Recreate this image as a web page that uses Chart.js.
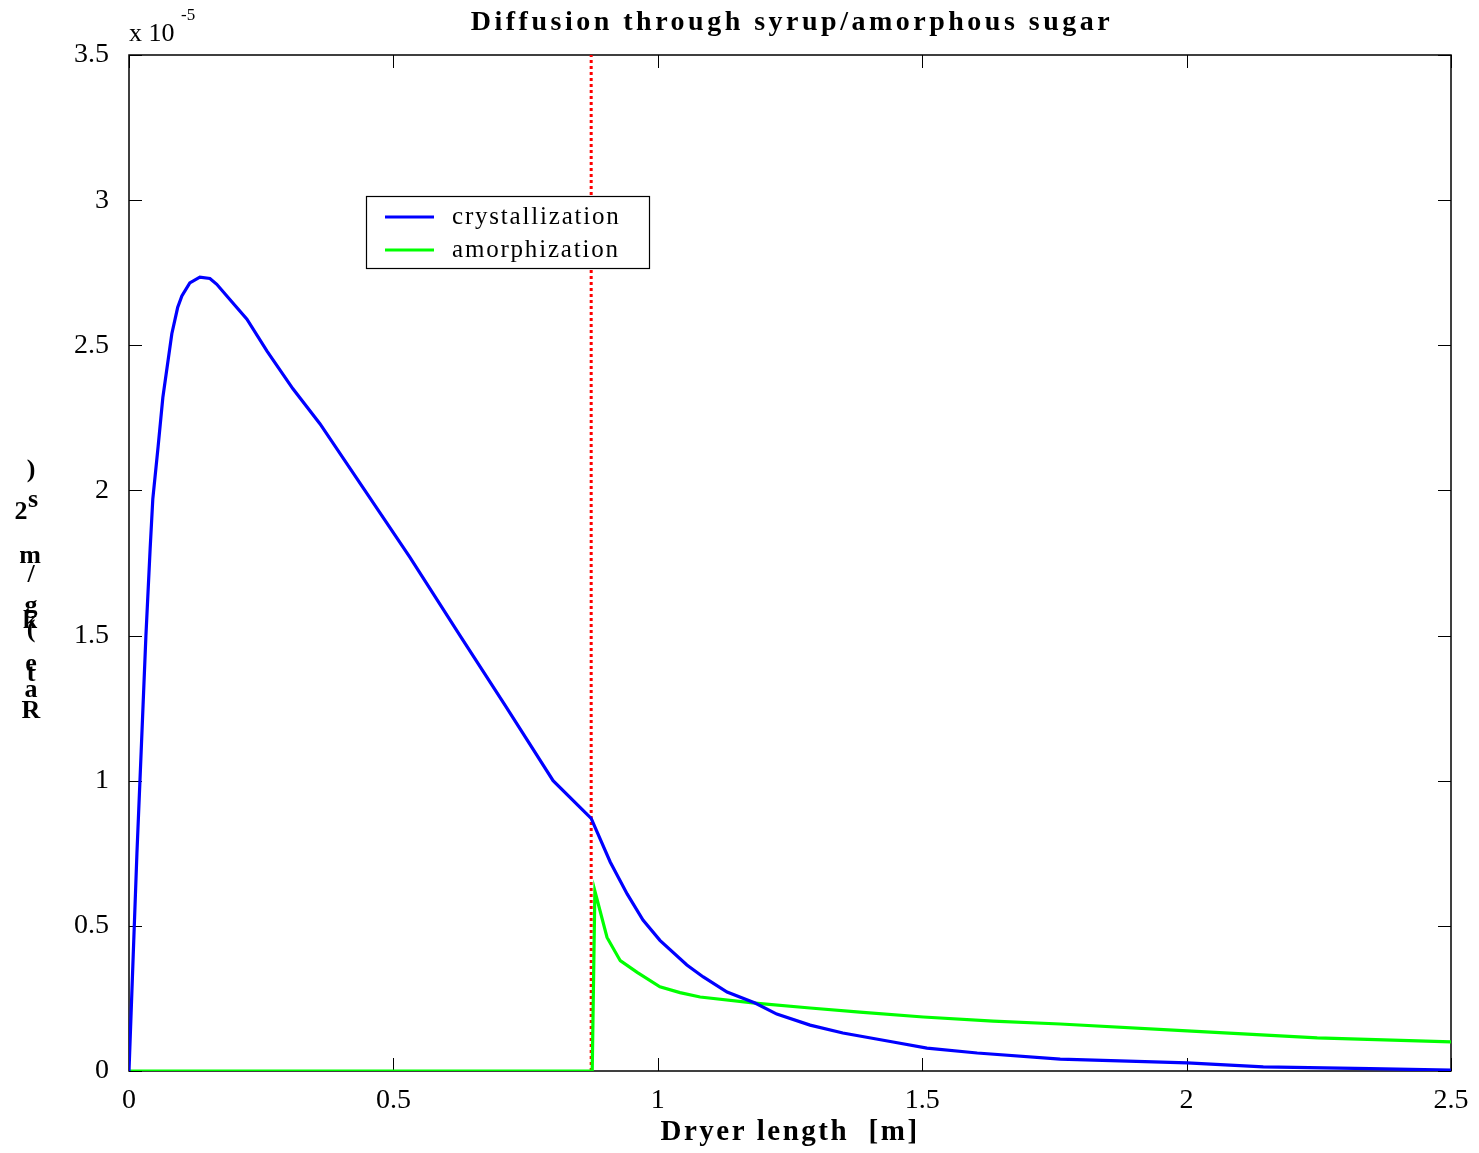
<!DOCTYPE html>
<html>
<head>
<meta charset="utf-8">
<script src="https://cdn.jsdelivr.net/npm/chart.js@4.4.0/dist/chart.umd.min.js"></script>
<style>
  html, body { margin: 0; padding: 0; background: #fff; }
  canvas { display: block; }
</style>
</head>
<body>
<canvas id="diffChart" width="1479" height="1153"></canvas>
<script>
// dryer length [m] and rates [x 1e-5 kg/m2 s]
const crystX = [0, 0.008, 0.015, 0.023, 0.032, 0.040, 0.045, 0.055, 0.064, 0.081, 0.092, 0.100, 0.115, 0.134, 0.153,
    0.166, 0.185, 0.223, 0.261, 0.310, 0.361, 0.446, 0.531, 0.626, 0.711, 0.802, 0.874, 0.910, 0.942, 0.972,
    1.004, 1.055, 1.086, 1.131, 1.184, 1.225, 1.288, 1.350, 1.445, 1.509, 1.604, 1.761, 2.001, 2.145, 2.347, 2.5];
const crystY = [0, 0.40, 0.75, 1.10, 1.50, 1.80, 1.97, 2.15, 2.32, 2.54, 2.63, 2.67, 2.715, 2.735, 2.73,
    2.71, 2.67, 2.59, 2.48, 2.35, 2.23, 2.00, 1.77, 1.50, 1.26, 1.00, 0.87, 0.72, 0.61, 0.52,
    0.45, 0.365, 0.324, 0.272, 0.234, 0.196, 0.158, 0.131, 0.100, 0.079, 0.062, 0.041, 0.028, 0.014, 0.008, 0.003];

const amorphX = [0, 0.876, 0.881, 0.904, 0.929, 0.961, 1.004, 1.042, 1.080, 1.184, 1.288, 1.382, 1.502, 1.634,
    1.761, 2.001, 2.247, 2.5];
const amorphY = [0, 0, 0.62, 0.46, 0.38, 0.34, 0.29, 0.27, 0.255, 0.234, 0.217, 0.203, 0.186, 0.172,
    0.162, 0.138, 0.114, 0.100];

// transition point between syrup and amorphous sugar
const transitionX = 0.874;

const xTicks = [0, 0.5, 1, 1.5, 2, 2.5];
const yTicks = [0, 0.5, 1, 1.5, 2, 2.5, 3, 3.5];

const serif = '"Liberation Serif", "Times New Roman", serif';

const toPoints = (xs, ys) => xs.map((x, i) => ({ x: x, y: ys[i] }));

// axes box with inward ticks on all four sides
const framePlugin = {
    id: 'frame',
    beforeDatasetsDraw(chart) {
        const { ctx, chartArea: a, scales } = chart;
        ctx.save();
        ctx.strokeStyle = '#000';
        ctx.lineWidth = 1.5;
        ctx.strokeRect(a.left, a.top, a.right - a.left, a.bottom - a.top);
        ctx.lineWidth = 1;
        ctx.beginPath();
        xTicks.forEach(v => {
            const px = Math.round(scales.x.getPixelForValue(v)) + 0.5;
            ctx.moveTo(px, a.bottom); ctx.lineTo(px, a.bottom - 13);
            ctx.moveTo(px, a.top); ctx.lineTo(px, a.top + 13);
        });
        yTicks.forEach(v => {
            const py = Math.round(scales.y.getPixelForValue(v)) + 0.5;
            ctx.moveTo(a.left, py); ctx.lineTo(a.left + 13, py);
            ctx.moveTo(a.right, py); ctx.lineTo(a.right - 13, py);
        });
        ctx.stroke();
        ctx.restore();
    },
    afterDraw(chart) {
        const { ctx, chartArea: a } = chart;
        ctx.save();
        ctx.fillStyle = '#000';

        // title
        ctx.font = 'bold 28px ' + serif;
        ctx.letterSpacing = '3.5px';
        ctx.textAlign = 'center';
        ctx.textBaseline = 'middle';
        ctx.fillText('Diffusion through syrup/amorphous sugar', 792, 23);

        // x axis title
        ctx.font = 'bold 29px ' + serif;
        ctx.letterSpacing = '2.5px';
        ctx.fillText('Dryer length  [m]', 790, 1133);
        ctx.letterSpacing = '0px';

        // exponent
        ctx.textAlign = 'left';
        ctx.font = '26px ' + serif;
        ctx.fillText('x 10', a.left, 34);
        ctx.font = '17px ' + serif;
        ctx.fillText('-5', a.left + 52, 16);

        // y axis title, glyphs stacked upright
        ctx.font = 'bold 26px ' + serif;
        ctx.textAlign = 'center';
        const yGlyphs = [['R', 31, 711], ['a', 31, 690], ['t', 31, 674], ['e', 31, 664],
            ['(', 31, 630], ['k', 30, 621], ['g', 31, 606], ['/', 31, 575], ['m', 30, 556],
            ['2', 21, 512], ['s', 33, 500], [')', 31, 470]];
        yGlyphs.forEach(g => ctx.fillText(g[0], g[1], g[2]));

        // legend
        const lx = 366, ly = 196, lw = 283, lh = 72;
        ctx.fillStyle = '#fff';
        ctx.fillRect(lx, ly, lw, lh);
        ctx.strokeStyle = '#000';
        ctx.lineWidth = 1.2;
        ctx.strokeRect(lx + 0.5, ly + 0.5, lw, lh);
        const entries = [['crystallization', '#0000ff', 217], ['amorphization', '#00ff00', 250]];
        ctx.font = '25px ' + serif;
        ctx.letterSpacing = '1.8px';
        ctx.textAlign = 'left';
        entries.forEach(e => {
            ctx.strokeStyle = e[1];
            ctx.lineWidth = 3;
            ctx.beginPath();
            ctx.moveTo(385, e[2]); ctx.lineTo(434, e[2]);
            ctx.stroke();
            ctx.fillStyle = '#000';
            ctx.fillText(e[0], 452, e[2]);
        });
        ctx.restore();
    }
};

new Chart(document.getElementById('diffChart').getContext('2d'), {
    type: 'scatter',
    data: {
        datasets: [{
            label: 'crystallization',
            data: toPoints(crystX, crystY),
            showLine: true,
            borderColor: '#0000ff',
            borderWidth: 3.2,
            pointRadius: 0,
            tension: 0
        }, {
            label: 'amorphization',
            data: toPoints(amorphX, amorphY),
            showLine: true,
            borderColor: '#00ff00',
            borderWidth: 3.2,
            pointRadius: 0,
            tension: 0
        }, {
            label: 'transition',
            data: [{ x: transitionX, y: 0 }, { x: transitionX, y: 3.5 }],
            showLine: true,
            borderColor: '#ff0000',
            borderWidth: 3,
            borderDash: [3, 3],
            pointRadius: 0
        }]
    },
    options: {
        responsive: false,
        animation: false,
        devicePixelRatio: 1,
        layout: { padding: { top: 55, right: 28, left: 0, bottom: 0 } },
        plugins: {
            legend: { display: false },
            tooltip: { enabled: false }
        },
        scales: {
            x: {
                type: 'linear',
                min: 0,
                max: 2.5,
                afterFit: s => { s.height = 82; },
                afterBuildTicks: s => { s.ticks = xTicks.map(v => ({ value: v })); },
                grid: { display: false },
                border: { display: false },
                ticks: {
                    padding: 5,
                    color: '#000',
                    font: { family: serif, size: 28 },
                    callback: v => String(v)
                }
            },
            y: {
                type: 'linear',
                min: 0,
                max: 3.5,
                afterFit: s => { s.width = 129; },
                afterBuildTicks: s => { s.ticks = yTicks.map(v => ({ value: v })); },
                grid: { display: false },
                border: { display: false },
                ticks: {
                    padding: 12,
                    color: '#000',
                    font: { family: serif, size: 28 },
                    callback: v => String(v)
                }
            }
        }
    },
    plugins: [framePlugin]
});
</script>
</body>
</html>
